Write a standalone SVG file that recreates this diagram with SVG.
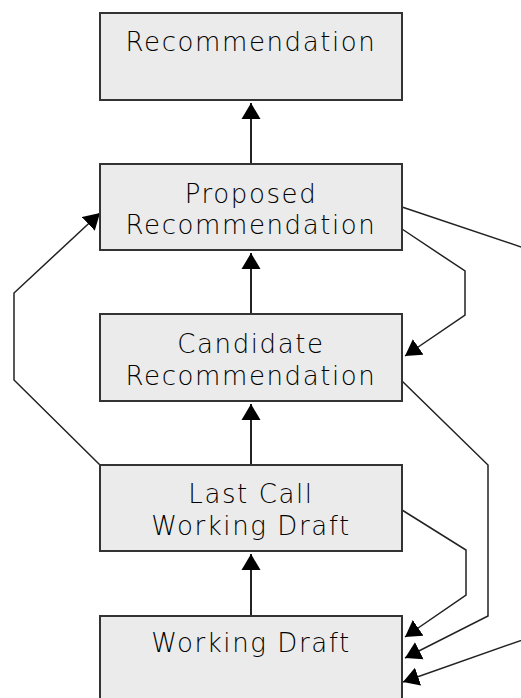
<svg xmlns="http://www.w3.org/2000/svg" width="521" height="698" viewBox="0 0 521 698">
  <style>
    .box rect { fill: #ebebeb; stroke: #333333; stroke-width: 2; }
    .box text { font-family: "DejaVu Sans", Verdana, sans-serif; font-size: 26px; font-weight: 200; fill: #000000; text-anchor: middle; letter-spacing: 1.6px; }
    .edge { fill: none; stroke: #222222; stroke-width: 1.5; }
    .up { fill: none; stroke: #222222; stroke-width: 2; }
  </style>
  <defs>
    <marker id="arrow" markerUnits="userSpaceOnUse" markerWidth="17" markerHeight="20" refX="16" refY="10" orient="auto">
      <path d="M0,0.5 L16,10 L0,19.5 z" fill="#000000"/>
    </marker>
  </defs>
  <rect width="521" height="698" fill="#ffffff"/>

  <g id="connectors">
    <!-- straight promotions up the track -->
    <path class="up" d="M251,164 L251,103" marker-end="url(#arrow)"/>
    <path class="up" d="M251,314 L251,253" marker-end="url(#arrow)"/>
    <path class="up" d="M251,465 L251,404" marker-end="url(#arrow)"/>
    <path class="up" d="M251,616 L251,554" marker-end="url(#arrow)"/>
    <!-- last call straight to proposed -->
    <path class="edge" d="M100,465 L14,380 L14,293 L100,213" marker-end="url(#arrow)"/>
    <!-- returns down the track -->
    <path class="edge" d="M402,229 L465,271 L465,315 L405,356" marker-end="url(#arrow)"/>
    <path class="edge" d="M402,510 L466,550 L466,595 L405,637" marker-end="url(#arrow)"/>
    <path class="edge" d="M402,381 L488,465 L488,616 L405,658" marker-end="url(#arrow)"/>
    <path class="edge" d="M402,207 L545,255 L545,632 L403,682" marker-end="url(#arrow)"/>
  </g>

  <g id="rec" class="box">
    <rect x="100" y="13" width="302" height="87"/>
    <text x="251" y="51">Recommendation</text>
  </g>
  <g id="pr" class="box">
    <rect x="100" y="164" width="302" height="86"/>
    <text x="251" y="203">Proposed</text>
    <text x="251" y="234">Recommendation</text>
  </g>
  <g id="cr" class="box">
    <rect x="100" y="314" width="302" height="87"/>
    <text x="251" y="353">Candidate</text>
    <text x="251" y="385">Recommendation</text>
  </g>
  <g id="lcwd" class="box">
    <rect x="100" y="465" width="302" height="86"/>
    <text x="251" y="503">Last Call</text>
    <text x="251" y="535">Working Draft</text>
  </g>
  <g id="wd" class="box">
    <rect x="100" y="616" width="302" height="100"/>
    <text x="251" y="652">Working Draft</text>
  </g>
</svg>
